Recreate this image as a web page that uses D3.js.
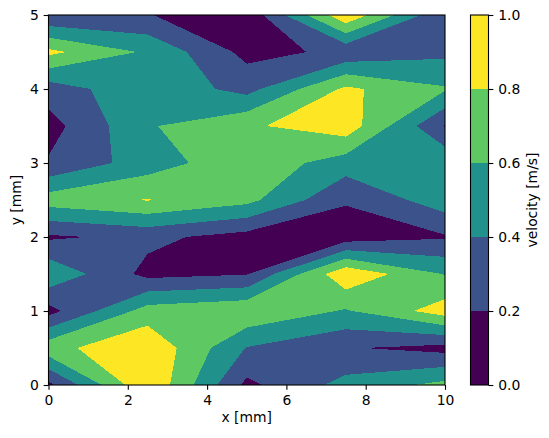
<!DOCTYPE html>
<html>
<head>
<meta charset="utf-8">
<script src="https://cdn.jsdelivr.net/npm/d3@7/dist/d3.min.js"></script>
<style>
  body { margin: 0; background: #fff; }
  text { font-family: "DejaVu Sans", sans-serif; fill: #000; }
</style>
</head>
<body>
<script>
// grid of the measurement
var xGrid = [0, 2.5, 5, 7.5, 10];
var yGrid = [0, 0.5, 1, 1.5, 2, 2.5, 3, 3.5, 4, 4.5, 5];

// velocity, one row per y (bottom to top), columns follow xGrid
var velocity = [
  [0.15, 0.99, 0.15, 0.47, 0.66],
  [0.73, 0.97, 0.39, 0.215, 0.13],
  [0.13, 0.69, 0.77, 0.58, 0.90],
  [0.56, 0.14, 0.19, 0.96, 0.59],
  [0.17, 0.25, 0.12, 0.09, 0.18],
  [0.70, 0.81, 0.66, 0.22, 0.51],
  [0.22, 0.50, 0.74, 0.50, 0.565],
  [0.12, 0.58, 0.77, 0.92, 0.19],
  [0.29, 0.55, 0.33, 0.84, 0.62],
  [0.85, 0.57, 0.14, 0.24, 0.35],
  [0.21, 0.21, 0.05, 0.96, 0.22]
];

var levels = [0, 0.2, 0.4, 0.6, 0.8, 1.0];
var bandColors = ["#440154", "#3b528b", "#21918c", "#5ec962", "#fde725"];
var xTicks = [0, 2, 4, 6, 8, 10];
var yTicks = [0, 1, 2, 3, 4, 5];

var width = 549,
    height = 438;

// plot box (window.top is reserved, hence the names)
var plotLeft = 48.5, plotRight = 445, plotTop = 15, plotBottom = 385;
var fs = 13.9;

var x = d3.scaleLinear().domain([0, 10]).range([plotLeft, plotRight]);
var y = d3.scaleLinear().domain([0, 5]).range([plotBottom, plotTop]);

var svg = d3.select("body").append("svg")
    .attr("width", width)
    .attr("height", height);

// filled contours: one path per lower level, painted bottom up
// cells are cut by marching squares, saddles split on the mean of the corners
function crossing(p, q, vp, vq, t) {
  var f = (t - vp) / (vq - vp);
  return [p[0] + f * (q[0] - p[0]), p[1] + f * (q[1] - p[1])];
}

function levelPath(t) {
  var path = d3.path();
  for (var j = 0; j < yGrid.length - 1; j++) {
    for (var i = 0; i < xGrid.length - 1; i++) {
      var corners = [[i, j], [i + 1, j], [i + 1, j + 1], [i, j + 1]];
      var pts = corners.map(function(c) { return [xGrid[c[0]], yGrid[c[1]]]; });
      var vals = corners.map(function(c) { return velocity[c[1]][c[0]]; });
      var up = vals.map(function(v) { return v >= t; });
      var n = up.filter(Boolean).length;
      if (n === 0) continue;
      var rings = [];
      var saddle = n === 2 && up[0] === up[2];
      if (saddle && d3.mean(vals) < t) {
        for (var k = 0; k < 4; k++) {
          if (!up[k]) continue;
          var kp = (k + 3) % 4, kn = (k + 1) % 4;
          rings.push([crossing(pts[kp], pts[k], vals[kp], vals[k], t), pts[k],
                      crossing(pts[k], pts[kn], vals[k], vals[kn], t)]);
        }
      } else {
        var ring = [];
        for (var k = 0; k < 4; k++) {
          var kn = (k + 1) % 4;
          if (up[k]) ring.push(pts[k]);
          if (up[k] !== up[kn]) ring.push(crossing(pts[k], pts[kn], vals[k], vals[kn], t));
        }
        rings.push(ring);
      }
      rings.forEach(function(r) {
        r.forEach(function(p, m) {
          if (m === 0) path.moveTo(x(p[0]), y(p[1]));
          else path.lineTo(x(p[0]), y(p[1]));
        });
        path.closePath();
      });
    }
  }
  return path.toString();
}

var fills = svg.append("g").attr("class", "contours");
levels.slice(0, -1).forEach(function(t, k) {
  fills.append("path")
      .attr("d", levelPath(t))
      .attr("fill", bandColors[k])
      .attr("fill-rule", "nonzero")
      .attr("shape-rendering", "crispEdges");
});

// axes
var tickLen = 4.86, tickPad = 4.86;

var xAxis = svg.append("g")
    .attr("transform", "translate(0," + plotBottom + ")")
    .call(d3.axisBottom(x).tickValues(xTicks).tickFormat(d3.format("d"))
      .tickSizeOuter(0).tickSize(tickLen).tickPadding(tickPad));

var yAxis = svg.append("g")
    .attr("transform", "translate(" + plotLeft + ",0)")
    .call(d3.axisLeft(y).tickValues(yTicks).tickFormat(d3.format("d"))
      .tickSizeOuter(0).tickSize(tickLen).tickPadding(tickPad));

[xAxis, yAxis].forEach(function(a) {
  a.select(".domain").remove();
  a.selectAll("line").attr("stroke", "#000").attr("stroke-width", 1.1);
  a.selectAll("text").style("font-size", fs + "px").style("font-family", "DejaVu Sans");
});

svg.append("rect")
    .attr("x", plotLeft).attr("y", plotTop)
    .attr("width", plotRight - plotLeft).attr("height", plotBottom - plotTop)
    .attr("fill", "none").attr("stroke", "#000").attr("stroke-width", 1.1);

svg.append("text")
    .attr("x", (plotLeft + plotRight) / 2).attr("y", 422)
    .attr("text-anchor", "middle")
    .style("font-size", fs + "px")
    .text("x [mm]");

svg.append("text")
    .attr("transform", "translate(21," + (plotTop + plotBottom) / 2 + ") rotate(-90)")
    .attr("text-anchor", "middle")
    .style("font-size", fs + "px")
    .text("y [mm]");

// colorbar
var cbLeft = 470.5, cbRight = 488.5;
var c = d3.scaleLinear().domain([0, 1]).range([plotBottom, plotTop]);

svg.append("g").selectAll("rect")
    .data(bandColors)
    .enter().append("rect")
    .attr("x", cbLeft)
    .attr("y", function(d, k) { return c(levels[k + 1]); })
    .attr("width", cbRight - cbLeft)
    .attr("height", function(d, k) { return c(levels[k]) - c(levels[k + 1]); })
    .attr("fill", function(d) { return d; })
    .attr("shape-rendering", "crispEdges");

var cAxis = svg.append("g")
    .attr("transform", "translate(" + cbRight + ",0)")
    .call(d3.axisRight(c).tickValues(levels).tickFormat(d3.format(".1f"))
      .tickSizeOuter(0).tickSize(tickLen).tickPadding(tickPad));
cAxis.select(".domain").remove();
cAxis.selectAll("line").attr("stroke", "#000").attr("stroke-width", 1.1);
cAxis.selectAll("text").style("font-size", fs + "px").style("font-family", "DejaVu Sans");

svg.append("rect")
    .attr("x", cbLeft).attr("y", plotTop)
    .attr("width", cbRight - cbLeft).attr("height", plotBottom - plotTop)
    .attr("fill", "none").attr("stroke", "#000").attr("stroke-width", 1.1);

svg.append("text")
    .attr("transform", "translate(537," + (plotTop + plotBottom) / 2 + ") rotate(-90)")
    .attr("text-anchor", "middle")
    .style("font-size", fs + "px")
    .text("velocity [m/s]");
</script>
</body>
</html>
